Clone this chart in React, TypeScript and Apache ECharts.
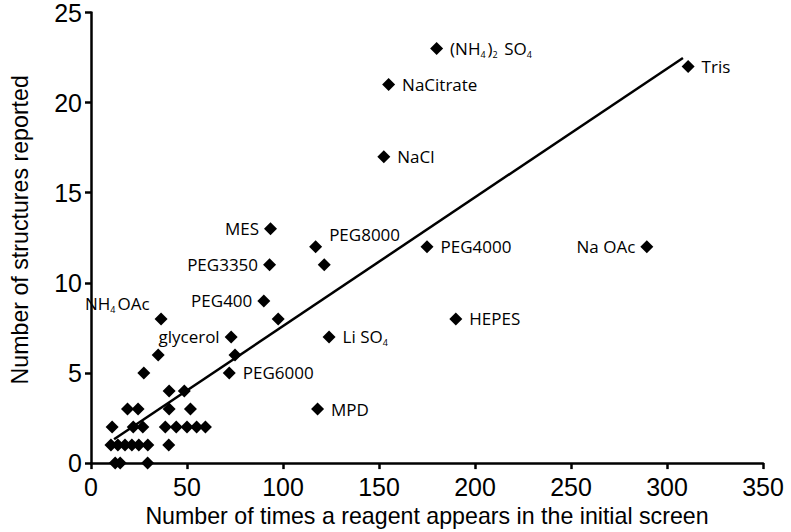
import React, { useEffect, useRef } from "react";
import * as echarts from "echarts";

// Reagent names ("" = unlabeled point)
const reagentNames = [
  "(NH4)2 SO4", "Tris", "NaCitrate", "NaCl", "MES", "PEG8000", "PEG4000", "Na OAc",
  "PEG3350", "PEG400", "NH4OAc", "HEPES", "glycerol", "Li SO4", "PEG6000", "MPD",
  "", "", "", "", "", "", "", "", "", "", "", "", "", "", "", "", "", "", "", "",
  "", "", "", "", "", "", "", "", "",
];
// Number of times a reagent appears in the initial screen
const reagentX = [
  180, 311, 155, 152.5, 93.5, 117, 175, 289.5,
  93, 90, 36.5, 190, 73, 124, 72, 118,
  121.5, 97.5, 75, 35, 27.5, 40.7, 48.6, 19, 24.5, 40.7, 51.8,
  11, 22, 27, 38.7, 44.4, 50, 55, 59.6,
  10.4, 14, 17.7, 21.3, 24.9, 29.6, 40.5,
  12.6, 15.2, 29.5,
];
// Number of structures reported
const reagentY = [
  23, 22, 21, 17, 13, 12, 12, 12,
  11, 9, 8, 8, 7, 7, 5, 3,
  11, 8, 6, 6, 5, 4, 4, 3, 3, 3, 3,
  2, 2, 2, 2, 2, 2, 2, 2,
  1, 1, 1, 1, 1, 1, 1,
  0, 0, 0,
];
// Linear fit end points
const fitX = [12, 308.3];
const fitY = [1.32, 22.48];

const xTicks = [0, 350, 50];
const yTicks = [0, 25, 5];

const leftLabels = new Set(["MES", "PEG3350", "PEG400", "glycerol", "Na OAc", "NH4OAc"]);
const labelOffsets: Record<string, number[]> = {
  "PEG8000": [0, -12],
  "NH4OAc": [0, -15],
};

const toRich = (name: string) =>
  name.startsWith("PEG") ? name : name.replace(/(\d)/g, "{s|$1}");

export default function App() {
  const ref = useRef<HTMLDivElement>(null);
  useEffect(() => {
    if (!ref.current) return;
    const chart = echarts.init(ref.current, null, { renderer: "svg" });
    const axisFont = "'Liberation Sans', Arial, sans-serif";
    const labelFont = "'Open Sans', 'Noto Sans', sans-serif";
    const data = reagentX.map((x, i) => {
      const name = reagentNames[i];
      const left = leftLabels.has(name);
      return {
        value: [x, reagentY[i]],
        name,
        label: {
          show: name !== "",
          position: left ? "left" : "right",
          distance: left ? 5 : 7,
          offset: labelOffsets[name] || [0, 0],
          formatter: () => toRich(name),
        },
      };
    });
    chart.setOption({
      animation: false,
      backgroundColor: "#ffffff",
      grid: { left: 89, right: 28, top: 11, bottom: 68, containLabel: false },
      xAxis: {
        type: "value",
        min: xTicks[0],
        max: xTicks[1],
        interval: xTicks[2],
        name: "Number of times a reagent appears in the initial screen",
        nameLocation: "middle",
        nameGap: 38,
        nameTextStyle: { fontFamily: axisFont, fontSize: 23.2, color: "#000" },
        axisLine: { show: true, onZero: false, lineStyle: { color: "#000", width: 2.5 } },
        axisTick: { show: true, inside: false, length: 6, lineStyle: { color: "#000", width: 2.5 } },
        axisLabel: { fontFamily: axisFont, fontSize: 25, color: "#000", margin: 11 },
        splitLine: { show: false },
      },
      yAxis: {
        type: "value",
        min: yTicks[0],
        max: yTicks[1],
        interval: yTicks[2],
        name: "Number of structures reported",
        nameLocation: "middle",
        nameGap: 60,
        nameTextStyle: { fontFamily: axisFont, fontSize: 23.2, color: "#000", padding: [0, 0, 0, 16] },
        axisLine: { show: true, onZero: false, lineStyle: { color: "#000", width: 2.5 } },
        axisTick: { show: true, inside: false, length: 6, lineStyle: { color: "#000", width: 2.5 } },
        axisLabel: { fontFamily: axisFont, fontSize: 25, color: "#000", margin: 9 },
        splitLine: { show: false },
      },
      series: [
        {
          type: "line",
          data: fitX.map((x, i) => [x, fitY[i]]),
          symbol: "none",
          lineStyle: { color: "#000", width: 2.5 },
          silent: true,
          z: 1,
        },
        {
          type: "scatter",
          symbol: "diamond",
          symbolSize: 13,
          itemStyle: { color: "#000", opacity: 1 },
          z: 2,
          label: {
            fontFamily: labelFont,
            fontSize: 17,
            color: "#000",
            lineHeight: 20,
            rich: {
              s: { fontFamily: labelFont, fontSize: 9, lineHeight: 10, verticalAlign: "bottom", color: "#000", padding: [0, 2, 0, 0] },
            },
          },
          data,
        },
      ],
    });
    return () => chart.dispose();
  }, []);
  return <div ref={ref} style={{ width: 791, height: 532, position: "absolute", left: 0, top: 0 }} />;
}
